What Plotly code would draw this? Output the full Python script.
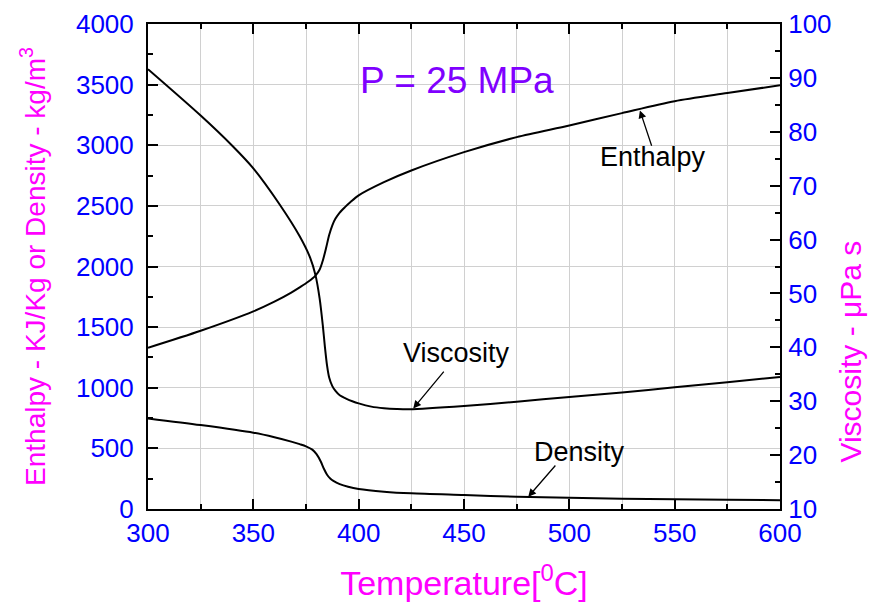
import plotly.graph_objects as go

# ---- data ----
enth_T = [300, 325, 350, 360, 368, 372, 376, 379.5, 381.5, 383, 384.5, 386, 387.5, 389, 391, 393.5, 396, 400,
          412, 425, 450, 475, 500, 525, 550, 575, 600]
enth_H = [1330, 1470, 1630, 1710, 1785, 1828, 1874, 1925, 1975, 2050, 2150, 2260, 2340, 2395, 2445, 2490, 2530, 2587,
          2696, 2792, 2943, 3067, 3163, 3265, 3363, 3430, 3495]

visc_T = [300, 325, 340, 350, 362.5, 372, 377, 379.5, 381.5, 383, 384, 385, 386, 387.5, 389, 391, 394, 397,
          400, 406, 412, 418, 424, 450, 475, 500, 525, 550, 575, 600]
visc_V = [91.6, 83.0, 77.4, 73.2, 66.5, 60.6, 56.6, 53.4, 49.0, 44.0, 40.0, 36.6, 34.4, 32.8, 31.9, 31.1, 30.5, 30.0,
          29.6, 29.0, 28.7, 28.55, 28.5, 29.1, 29.9, 30.8, 31.6, 32.6, 33.5, 34.5]

dens_T = [300, 325, 350, 360, 368, 372, 375, 378, 380, 382, 383.5, 385, 386.5, 388, 391, 395, 400,
          412, 425, 450, 475, 500, 525, 550, 575, 600]
dens_D = [747, 692, 629, 592, 556, 535, 517, 490, 452, 392, 332, 283, 252, 232, 205, 183, 165,
          143, 129, 115, 101, 93, 85, 80, 76, 72]

x_ticks = [300, 350, 400, 450, 500, 550, 600]
y_ticks = [0, 500, 1000, 1500, 2000, 2500, 3000, 3500, 4000]
y2_ticks = [10, 20, 30, 40, 50, 60, 70, 80, 90, 100]

FONT = "Arial, Liberation Sans, sans-serif"
BLUE = "#0000ff"
MAG = "#ff00ff"
GRID = "#d0d0d0"

fig = go.Figure()
line = dict(color="black", width=2, shape="spline", smoothing=0.8)
fig.add_trace(go.Scatter(x=enth_T, y=enth_H, mode="lines", line=line, name="Enthalpy"))
fig.add_trace(go.Scatter(x=dens_T, y=dens_D, mode="lines", line=line, name="Density"))
fig.add_trace(go.Scatter(x=visc_T, y=visc_V, mode="lines", line=line, name="Viscosity", yaxis="y2"))

fig.update_layout(
    width=875, height=608,
    margin=dict(l=148, r=95, t=24, b=99, autoexpand=False),
    paper_bgcolor="white", plot_bgcolor="white",
    showlegend=False,
    font=dict(family=FONT, color="black"),
    xaxis=dict(
        range=[300, 600], tickvals=x_ticks, ticks="inside", ticklen=10, tickwidth=2,
        tickcolor="black", showline=True, linecolor="black", linewidth=2, mirror="ticks",
        showgrid=True, gridcolor=GRID, gridwidth=1, zeroline=False, automargin=False,
        minor=dict(dtick=25, tick0=300, ticks="inside", ticklen=5, tickwidth=2, tickcolor="black",
                   showgrid=True, gridcolor=GRID, gridwidth=1),
        tickfont=dict(size=26, color=BLUE, family=FONT),
        title=dict(text="Temperature[<sup>0</sup>C]", font=dict(size=34, color=MAG, family=FONT), standoff=24),
    ),
    yaxis=dict(
        range=[0, 4000], tickvals=y_ticks, ticks="inside", ticklen=10, tickwidth=2,
        tickcolor="black", showline=True, linecolor="black", linewidth=2, mirror=False,
        showgrid=True, gridcolor=GRID, gridwidth=1, zeroline=False, automargin=False,
        minor=dict(dtick=250, tick0=0, ticks="inside", ticklen=5, tickwidth=2, tickcolor="black",
                   showgrid=False),
        tickfont=dict(size=26, color=BLUE, family=FONT),
        ticklabelstandoff=7,
        title=dict(text="Enthalpy - KJ/Kg or Density - kg/m<sup>3</sup>",
                   font=dict(size=28, color=MAG, family=FONT), standoff=22),
    ),
    yaxis2=dict(
        range=[10, 100], tickvals=y2_ticks, overlaying="y", side="right", ticks="inside",
        ticklen=10, tickwidth=2, tickcolor="black", showline=True, linecolor="black", linewidth=2,
        showgrid=False, zeroline=False, automargin=False,
        minor=dict(dtick=5, tick0=10, ticks="inside", ticklen=5, tickwidth=2, tickcolor="black",
                   showgrid=False),
        tickfont=dict(size=26, color=BLUE, family=FONT),
        ticklabelstandoff=1,
    ),
)

ann = []
# right axis title placed where the reference shows it
ann.append(dict(x=1.111, y=0.325, xref="paper", yref="paper", text="Viscosity - \u03bcPa s",
                textangle=-90, showarrow=False, xanchor="center", yanchor="middle",
                font=dict(size=30, color=MAG, family=FONT)))
# title text
ann.append(dict(x=446.5, y=3535, xref="x", yref="y", text="P = 25 MPa", showarrow=False,
                font=dict(size=37, color="#8000ff", family=FONT)))
# labels
for txt, x, y in [("Enthalpy", 539.5, 2900), ("Viscosity", 446.6, 1285), ("Density", 505.0, 472)]:
    ann.append(dict(x=x, y=y, xref="x", yref="y", text=txt, showarrow=False,
                    font=dict(size=27, color="black", family=FONT)))
# arrows (tip x,y ; tail ax,ay)
for tip, tail in [((533.5, 3287), (539.3, 2984)),
                  ((425.9, 829), (441.0, 1145)),
                  ((480.5, 101), (494.0, 371))]:
    ann.append(dict(x=tip[0], y=tip[1], ax=tail[0], ay=tail[1], xref="x", yref="y",
                    axref="x", ayref="y", text="", showarrow=True, arrowhead=2,
                    arrowsize=1.2, arrowwidth=1.3, arrowcolor="black"))
fig.update_layout(annotations=ann)

fig.write_html("out.html")
